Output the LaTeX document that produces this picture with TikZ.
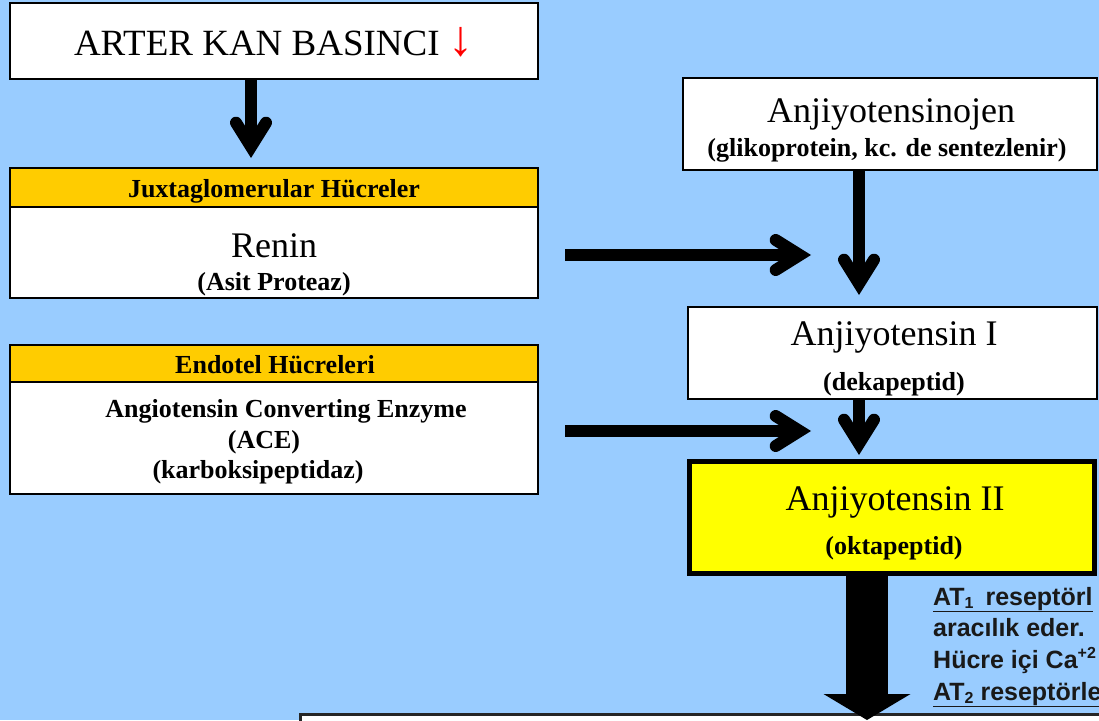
\documentclass[tikz,border=0pt]{standalone}
\usepackage{fontspec}
\setmainfont{Liberation Serif}
\newfontfamily\sansfont{Liberation Sans}
\usetikzlibrary{arrows.meta}
\definecolor{bgblue}{HTML}{99CCFF}
\definecolor{hdr}{HTML}{FFCC00}
\definecolor{anj}{HTML}{FFFF00}
\newcommand\fs[1]{\fontsize{#1pt}{#1pt}\selectfont}
\newcommand\mysub[1]{\raisebox{-0.3ex}{\fontsize{16pt}{16pt}\selectfont #1}}
\newcommand\mysup[1]{\raisebox{0.75ex}{\fontsize{16pt}{16pt}\selectfont #1}}
\begin{document}
\begin{tikzpicture}[x=1pt,y=-1pt,
  box/.style={draw=black, line width=2pt, fill=white, inner sep=0pt, outer sep=0pt},
  hdrbox/.style={box, fill=hdr},
  txt/.style={anchor=base, inner sep=0pt, outer sep=0pt},
  bigt/.style={txt, font=\fs{36}},
  subt/.style={txt, font=\fs{26}\bfseries},
  rtxt/.style={anchor=base west, inner sep=0pt, font=\sansfont\fs{25}\bfseries, text=black!90},
  thinarrow/.style={line width=12pt, -{Straight Barb[length=24pt,width=30pt,line cap=round,line join=miter]}},
  fatarrow/.style={line width=42pt, -{Triangle[width=87pt,length=26pt,line width=0pt]}},
]
\fill[bgblue] (0,0) rectangle (1099,720);
\useasboundingbox (0,0) rectangle (1099,720);

% left column
\node[box, minimum width=528pt, minimum height=76pt] (b1) at (274,41) {};
\node[txt, font=\fs{37}] (t1) at (274,55) {ARTER KAN BASINCI {\fs{50}\textcolor{red}{↓}}};

\node[hdrbox, minimum width=528pt, minimum height=39pt] (jh) at (274,187.5) {};
\node[subt] (jht) at (274,197) {Juxtaglomerular Hücreler};
\node[box, minimum width=528pt, minimum height=91pt] (renin) at (274,252.5) {};
\node[bigt] (rent) at (274,257) {Renin};
\node[subt] (rens) at (274,290) {(Asit Proteaz)};

\node[hdrbox, minimum width=528pt, minimum height=37pt] (eh) at (274,363.5) {};
\node[subt] (eht) at (275,373) {Endotel Hücreleri};
\node[box, minimum width=528pt, minimum height=112pt] (ace) at (274,438) {};
\node[subt] (acet1) at (286,417) {Angiotensin Converting Enzyme};
\node[subt] (acet2) at (264,448) {(ACE)};
\node[subt] (acet3) at (258,478) {(karboksipeptidaz)};

% right column
\node[box, minimum width=414pt, minimum height=92pt] (ajn) at (890,124) {};
\node[bigt] (ajnt) at (891,122) {Anjiyotensinojen};
\node[subt] (ajns) at (887,156) {(glikoprotein, kc. de sentezlenir)};

\node[box, minimum width=409pt, minimum height=92pt] (aj1) at (892.5,353) {};
\node[bigt] (aj1t) at (894,345) {Anjiyotensin I};
\node[subt] (aj1s) at (894,390) {(dekapeptid)};

\node[box, fill=anj, line width=5pt, minimum width=405pt, minimum height=112pt] (aj2) at (892,517.5) {};
\node[bigt] (aj2t) at (895,510) {Anjiyotensin II};
\node[subt] (aj2s) at (894,554) {(oktapeptid)};

% bottom box
\node[box, draw=black!85, line width=3pt, minimum width=810pt, minimum height=46pt] (bot) at (705,737) {};

% arrow guide coordinates
\coordinate (a1x) at (251,0);
\coordinate (h1e) at (811,255);
\coordinate (h2e) at (811,431);
\coordinate (vx) at (859,0);
\coordinate (bx) at (867,0);

\draw[thinarrow, shorten >=10pt] (b1.south -| a1x) -- (jh.north -| a1x);
\draw[thinarrow, shorten <=27pt] (renin.east |- h1e) -- (h1e);
\draw[thinarrow, shorten <=27pt] (ace.east |- h2e) -- (h2e);
\draw[thinarrow, shorten >=12pt] (ajn.south -| vx) -- (aj1.north -| vx);
\draw[thinarrow, shorten >=6.5pt] (aj1.south -| vx) -- (aj2.north -| vx);
\draw[fatarrow, shorten >=-6pt] (aj2.south -| bx) -- (bot.north -| bx);

% side text
\node[rtxt] (r1) at (933,605) {\underline{AT\mysub{1}\hspace{5pt} reseptörl}};
\node[rtxt] (r2) at (933,636) {aracılık eder.};
\node[rtxt] (r3) at (933,668) {Hücre içi Ca\mysup{+2}};
\node[rtxt] (r4) at (933,700) {\underline{AT\mysub{2} reseptörle}};
\end{tikzpicture}
\end{document}
